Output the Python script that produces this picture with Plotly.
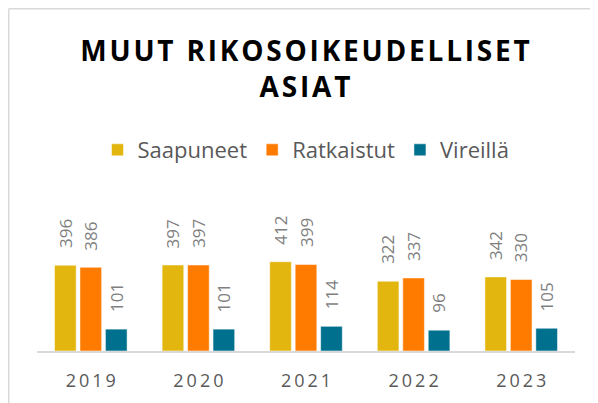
import plotly.graph_objects as go

years = ["2019", "2020", "2021", "2022", "2023"]
saapuneet = [396, 397, 412, 322, 342]
ratkaistut = [386, 397, 399, 337, 330]
vireilla = [101, 101, 114, 96, 105]
series_names = ["Saapuneet", "Ratkaistut", "Vireillä"]
title_lines = ["MUUT RIKOSOIKEUDELLISET", "ASIAT"]

colors = ["#E2B60F", "#FF7B00", "#00708F"]

W, H = 598, 403
ML, MR, MT, MB = 29, 31, 182, 60
PW = W - ML - MR
PH = H - MT - MB
BARGAP, GROUPGAP = 0.29, 0.15

def spaced(s, sep="\u200a"):
    return sep.join(list(s))

fig = go.Figure()
all_series = [saapuneet, ratkaistut, vireilla]
for name, vals, col in zip(series_names, all_series, colors):
    fig.add_trace(go.Bar(
        x=years, y=vals, name=name,
        marker=dict(color=col, line=dict(color="rgba(255,255,255,0.5)", width=1)),
    ))

# value labels above bars (rotated), offset to each bar's slot in the group
cat_w = PW / len(years)
slot = cat_w * (1 - BARGAP) / len(all_series)
for i, vals in enumerate(all_series):
    off = (i - (len(all_series) - 1) / 2) * slot
    for yr, v in zip(years, vals):
        fig.add_annotation(x=yr, y=v, text=str(v), showarrow=False,
                           textangle=-90, xanchor="center", yanchor="bottom",
                           xshift=off, yshift=15,
                           font=dict(family="Open Sans", size=17, color="#7F7F7F"))

title_text = "<br>".join(spaced(t, "\u200a") for t in title_lines)

# chart border (top and left edges visible)
bx = (0.75 - ML) / PW
by = (H - MB - 0.75) / PH
fig.add_shape(type="line", xref="paper", yref="paper", x0=bx, x1=(W - ML) / PW, y0=by, y1=by,
              line=dict(color="#D9D9D9", width=1.5))
fig.add_shape(type="line", xref="paper", yref="paper", x0=bx, x1=bx, y0=by, y1=-MB / PH,
              line=dict(color="#D9D9D9", width=1.5))

fig.update_layout(
    template="none",
    width=W, height=H,
    margin=dict(l=ML, r=MR, t=MT, b=MB, autoexpand=False),
    paper_bgcolor="white", plot_bgcolor="white",
    barmode="group", bargap=BARGAP, bargroupgap=GROUPGAP,
    title=dict(text=title_text, x=297 / W, xanchor="center", xref="container",
               y=1 - 53 / H, yanchor="top", yref="container",
               font=dict(family="Open Sans", size=28, color="#000000", weight="bold")),
    legend=dict(orientation="h", x=298 / W, xanchor="center", xref="container",
                y=1 - 142 / H, yanchor="middle", yref="container",
                font=dict(family="Open Sans", size=22, color="#595959"),
                itemclick=False),
    showlegend=True,
    xaxis=dict(tickvals=years, ticktext=[spaced(y, "\u2009") for y in years],
               showline=True, linecolor="#D9D9D9", linewidth=2,
               ticks="", ticklabelstandoff=12, automargin=False,
               tickfont=dict(family="Open Sans", size=18, color="#595959"),
               showgrid=False, zeroline=False),
    yaxis=dict(range=[0, 743], visible=False, showgrid=False, zeroline=False,
               automargin=False),
)

fig.write_html("out.html")
